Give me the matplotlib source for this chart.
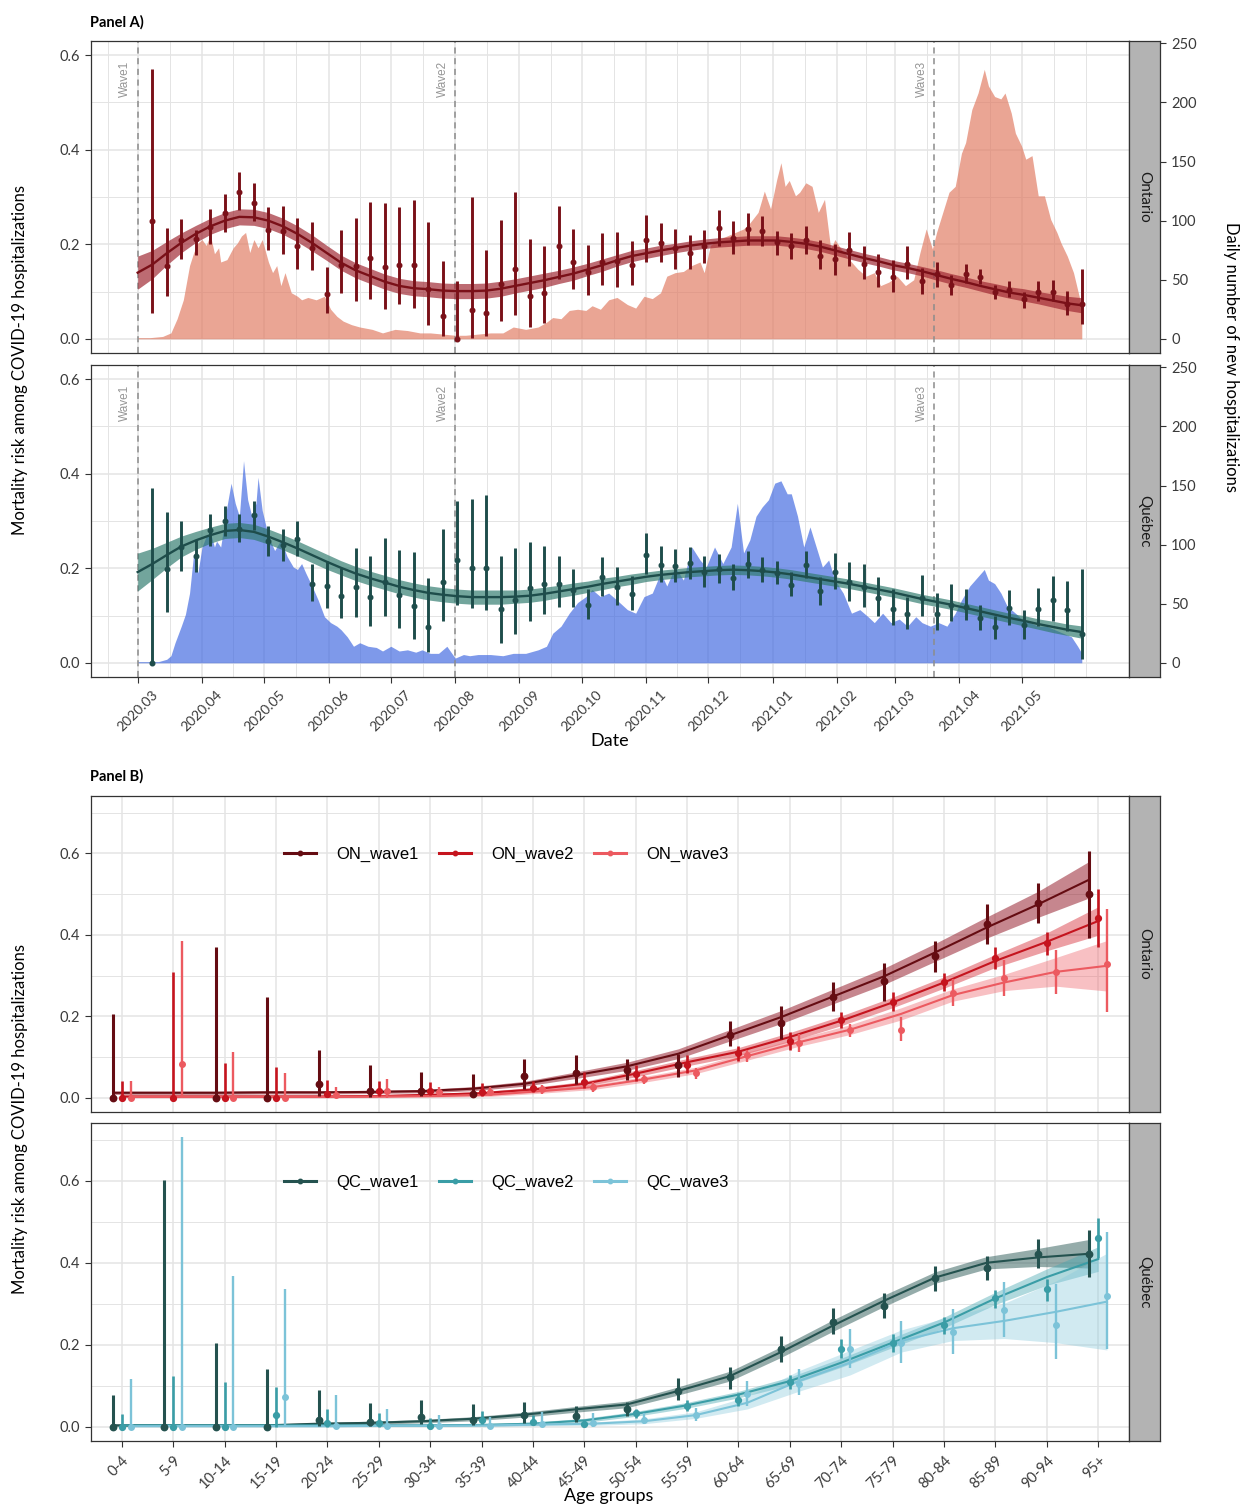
import numpy as np
import pandas as pd
import matplotlib
matplotlib.use("Agg")
import matplotlib.pyplot as plt
from matplotlib.lines import Line2D

plt.rcParams['font.family'] = ['Lato', 'DejaVu Sans']

# ======================= DATA : Panel A =======================
START = pd.Timestamp("2020-03-01")
week_dates = pd.date_range("2020-03-08", "2021-05-30", freq="7D")     # 65 weekly estimates
smooth_dates = pd.date_range("2020-03-01", "2021-05-30", freq="7D")   # 66 fitted values
wave_dates = pd.to_datetime(["2020-03-01", "2020-08-01", "2021-03-20"])
wave_labels = ["Wave1", "Wave2", "Wave3"]
month_ticks = pd.date_range("2020-03-01", "2021-05-01", freq="MS")
hosp_ticks = [0, 50, 100, 150, 200, 250]
SEC_SCALE = 400  # secondary axis = primary * 400

on_pt = [0.250, 0.154, 0.210, 0.211, 0.236, 0.266, 0.311, 0.288, 0.231, 0.229,
         0.197, 0.192, 0.095, 0.156, 0.154, 0.171, 0.152, 0.157, 0.156, 0.106,
         0.049, 0.000, 0.062, 0.055, 0.116, 0.148, 0.090, 0.096, 0.196, 0.162,
         0.141, 0.163, 0.165, 0.156, 0.210, 0.203, 0.192, 0.182, 0.196, 0.234,
         0.213, 0.233, 0.229, 0.204, 0.196, 0.210, 0.176, 0.168, 0.187, 0.159,
         0.142, 0.131, 0.159, 0.122, 0.138, 0.114, 0.138, 0.131, 0.099, 0.103,
         0.084, 0.100, 0.100, 0.074, 0.074]
on_lo = [0.055, 0.090, 0.168, 0.178, 0.200, 0.226, 0.272, 0.250, 0.187, 0.180,
         0.148, 0.145, 0.054, 0.096, 0.079, 0.085, 0.064, 0.074, 0.065, 0.029,
         0.006, 0.000, 0.001, 0.005, 0.038, 0.050, 0.024, 0.034, 0.126, 0.105,
         0.093, 0.113, 0.110, 0.113, 0.163, 0.162, 0.148, 0.148, 0.161, 0.196,
         0.180, 0.199, 0.196, 0.177, 0.169, 0.180, 0.147, 0.136, 0.154, 0.126,
         0.109, 0.099, 0.126, 0.094, 0.110, 0.093, 0.119, 0.115, 0.084, 0.089,
         0.066, 0.080, 0.080, 0.051, 0.031]
on_hi = [0.571, 0.234, 0.253, 0.231, 0.274, 0.306, 0.352, 0.330, 0.278, 0.281,
         0.255, 0.247, 0.152, 0.230, 0.256, 0.290, 0.288, 0.279, 0.294, 0.247,
         0.164, 0.122, 0.301, 0.187, 0.251, 0.310, 0.212, 0.196, 0.281, 0.232,
         0.199, 0.224, 0.225, 0.206, 0.262, 0.246, 0.232, 0.219, 0.231, 0.272,
         0.250, 0.266, 0.259, 0.229, 0.224, 0.238, 0.208, 0.201, 0.226, 0.196,
         0.180, 0.166, 0.196, 0.150, 0.163, 0.135, 0.159, 0.148, 0.113, 0.122,
         0.100, 0.122, 0.124, 0.101, 0.147]
on_fit = [0.140, 0.157, 0.181, 0.203, 0.222, 0.238, 0.250, 0.258, 0.257, 0.250,
          0.238, 0.222, 0.203, 0.182, 0.161, 0.145, 0.133, 0.121, 0.112, 0.107,
          0.105, 0.102, 0.101, 0.101, 0.102, 0.106, 0.112, 0.118, 0.124, 0.131,
          0.138, 0.147, 0.156, 0.166, 0.175, 0.181, 0.187, 0.192, 0.197, 0.201,
          0.204, 0.206, 0.208, 0.208, 0.208, 0.205, 0.201, 0.195, 0.187, 0.179,
          0.171, 0.164, 0.156, 0.150, 0.143, 0.135, 0.127, 0.120, 0.112, 0.105,
          0.098, 0.093, 0.087, 0.081, 0.075, 0.071]
on_fit_se = [0.035, 0.030, 0.025, 0.021, 0.018, 0.017, 0.017, 0.017, 0.017, 0.017,
             0.017, 0.017, 0.017, 0.016, 0.016, 0.016, 0.016, 0.016, 0.016, 0.016,
             0.016, 0.016, 0.016, 0.016, 0.016, 0.016, 0.015, 0.015, 0.015, 0.014,
             0.014, 0.013, 0.013, 0.012, 0.012, 0.011, 0.011, 0.010, 0.010, 0.010,
             0.010, 0.010, 0.010, 0.010, 0.010, 0.010, 0.010, 0.010, 0.010, 0.010,
             0.010, 0.010, 0.010, 0.010, 0.010, 0.011, 0.011, 0.011, 0.011, 0.012,
             0.012, 0.013, 0.013, 0.014, 0.015, 0.016]

qc_pt = [0.000, 0.198, 0.246, 0.226, 0.281, 0.300, 0.283, 0.312, 0.258, 0.249,
         0.261, 0.167, 0.163, 0.142, 0.160, 0.139, 0.170, 0.144, 0.121, 0.076,
         0.170, 0.218, 0.201, 0.201, 0.114, 0.133, 0.159, 0.167, 0.166, 0.154,
         0.123, 0.181, 0.161, 0.145, 0.229, 0.207, 0.204, 0.211, 0.192, 0.198,
         0.180, 0.208, 0.196, 0.189, 0.165, 0.207, 0.152, 0.193, 0.170, 0.161,
         0.137, 0.114, 0.104, 0.137, 0.103, 0.123, 0.119, 0.095, 0.075, 0.116,
         0.079, 0.114, 0.132, 0.111, 0.060]
qc_lo = [0.000, 0.107, 0.195, 0.193, 0.248, 0.269, 0.255, 0.282, 0.225, 0.215,
         0.225, 0.130, 0.116, 0.095, 0.096, 0.077, 0.098, 0.074, 0.051, 0.022,
         0.089, 0.123, 0.116, 0.112, 0.042, 0.060, 0.088, 0.104, 0.118, 0.118,
         0.093, 0.142, 0.123, 0.111, 0.188, 0.171, 0.170, 0.178, 0.160, 0.168,
         0.153, 0.180, 0.170, 0.166, 0.142, 0.179, 0.123, 0.156, 0.130, 0.118,
         0.100, 0.079, 0.072, 0.098, 0.069, 0.088, 0.091, 0.070, 0.051, 0.081,
         0.051, 0.077, 0.089, 0.067, 0.008]
qc_hi = [0.370, 0.318, 0.300, 0.260, 0.314, 0.331, 0.314, 0.342, 0.290, 0.283,
         0.300, 0.209, 0.216, 0.200, 0.242, 0.225, 0.263, 0.239, 0.234, 0.179,
         0.283, 0.342, 0.346, 0.356, 0.227, 0.242, 0.256, 0.248, 0.225, 0.198,
         0.156, 0.223, 0.202, 0.184, 0.274, 0.247, 0.241, 0.244, 0.225, 0.230,
         0.209, 0.236, 0.223, 0.215, 0.192, 0.236, 0.182, 0.233, 0.213, 0.209,
         0.181, 0.156, 0.140, 0.186, 0.147, 0.166, 0.156, 0.123, 0.098, 0.154,
         0.112, 0.158, 0.184, 0.173, 0.198]
qc_fit = [0.192, 0.209, 0.228, 0.246, 0.259, 0.270, 0.279, 0.281, 0.277, 0.267,
          0.255, 0.242, 0.228, 0.214, 0.201, 0.189, 0.179, 0.170, 0.161, 0.154,
          0.148, 0.144, 0.141, 0.139, 0.139, 0.139, 0.140, 0.142, 0.146, 0.151,
          0.156, 0.161, 0.167, 0.172, 0.177, 0.182, 0.186, 0.189, 0.192, 0.194,
          0.196, 0.197, 0.196, 0.194, 0.191, 0.187, 0.182, 0.177, 0.172, 0.167,
          0.161, 0.155, 0.149, 0.142, 0.135, 0.129, 0.123, 0.116, 0.109, 0.102,
          0.095, 0.089, 0.082, 0.076, 0.070, 0.065]
qc_fit_se = [0.040, 0.033, 0.027, 0.022, 0.019, 0.017, 0.016, 0.016, 0.016, 0.016,
             0.016, 0.016, 0.016, 0.016, 0.015, 0.015, 0.015, 0.015, 0.015, 0.015,
             0.015, 0.015, 0.015, 0.015, 0.015, 0.015, 0.014, 0.014, 0.014, 0.013,
             0.013, 0.012, 0.012, 0.011, 0.011, 0.010, 0.010, 0.010, 0.010, 0.010,
             0.010, 0.010, 0.010, 0.010, 0.010, 0.010, 0.010, 0.010, 0.010, 0.010,
             0.010, 0.010, 0.010, 0.010, 0.010, 0.010, 0.010, 0.010, 0.010, 0.010,
             0.010, 0.011, 0.011, 0.012, 0.012, 0.013]

# daily new hospitalisations (day offset from 2020-03-01, count)
on_hosp_day = [0, 6, 12, 16, 19, 22, 25, 27, 29, 31, 33, 35, 37, 39, 40, 43, 46, 48, 50, 52,
               54, 56, 58, 60, 63, 65, 67, 69, 71, 74, 77, 79, 82, 86, 90, 93, 96, 99, 103, 107,
               113, 118, 124, 130, 136, 141, 147, 153, 158, 164, 170, 176, 181, 187, 193, 197, 200, 204, 208, 212,
               216, 219, 223, 227, 231, 236, 240, 244, 248, 252, 255, 259, 263, 267, 271, 273, 276, 280, 284, 288,
               292, 295, 299, 302, 305, 308, 310, 312, 314, 317, 319, 322, 325, 328, 331, 334, 336, 339, 343, 347,
               351, 355, 358, 362, 366, 370, 374, 377, 380, 383, 385, 388, 391, 394, 397, 399, 402, 405, 408, 410,
               413, 416, 418, 421, 423, 426, 428, 431, 434, 437, 440, 443, 445, 448, 451, 454, 455]
on_hosp_n = [1, 1, 2, 5, 17, 33, 62, 73, 81, 84, 79, 88, 72, 77, 65, 67, 77, 81, 87, 90,
             73, 84, 77, 84, 65, 56, 62, 45, 56, 39, 36, 33, 35, 33, 36, 25, 19, 15, 12, 10,
             8, 5, 8, 7, 5, 5, 4, 3, 3, 4, 5, 5, 10, 8, 10, 14, 18, 17, 24, 25,
             24, 28, 25, 33, 35, 29, 26, 36, 34, 39, 53, 56, 57, 62, 65, 56, 79, 84, 87, 90,
             93, 98, 107, 125, 110, 135, 149, 129, 134, 121, 124, 132, 129, 107, 118, 76, 84, 76, 67, 59,
             53, 56, 45, 48, 53, 45, 50, 73, 93, 76, 90, 107, 124, 129, 157, 166, 194, 208, 228, 214,
             205, 203, 208, 191, 174, 163, 152, 155, 121, 121, 101, 90, 81, 70, 56, 34, 20]
qc_hosp_day = [0, 10, 14, 16, 18, 21, 23, 25, 27, 29, 31, 33, 35, 37, 38, 40, 43, 45, 47, 49,
               51, 53, 55, 57, 58, 60, 63, 66, 69, 72, 75, 77, 79, 81, 84, 87, 90, 93, 96, 98,
               101, 104, 107, 111, 115, 118, 122, 126, 130, 134, 137, 141, 145, 149, 153, 157, 160, 164, 170, 176,
               181, 187, 193, 197, 200, 204, 208, 212, 216, 219, 223, 227, 231, 236, 240, 244, 248, 252, 255, 259,
               263, 267, 271, 274, 278, 282, 286, 289, 292, 295, 298, 301, 304, 307, 310, 313, 315, 318, 321, 324,
               327, 330, 333, 336, 340, 344, 348, 352, 355, 359, 363, 367, 371, 375, 378, 382, 386, 390, 394, 397,
               401, 405, 408, 410, 413, 416, 419, 423, 426, 430, 434, 438, 442, 446, 450, 453, 455]
qc_hosp_n = [1, 1, 3, 6, 17, 31, 41, 59, 93, 76, 98, 107, 110, 98, 103, 98, 132, 152, 135, 124,
             171, 138, 124, 135, 157, 129, 107, 95, 104, 90, 81, 79, 84, 76, 65, 53, 39, 34, 31, 28,
             22, 14, 17, 14, 13, 10, 14, 10, 11, 9, 11, 8, 8, 14, 4, 7, 6, 7, 7, 6,
             8, 8, 11, 14, 25, 31, 42, 51, 56, 62, 56, 59, 53, 45, 42, 56, 59, 76, 65, 81,
             70, 98, 87, 81, 98, 84, 98, 135, 93, 104, 124, 132, 138, 152, 154, 143, 143, 124, 98, 115,
             98, 81, 87, 70, 59, 42, 45, 39, 34, 42, 34, 37, 31, 39, 34, 31, 34, 31, 42, 53,
             65, 73, 79, 70, 67, 59, 48, 42, 37, 34, 31, 31, 28, 25, 22, 14, 8]

# ======================= DATA : Panel B =======================
age_groups = ["0-4", "5-9", "10-14", "15-19", "20-24", "25-29", "30-34", "35-39", "40-44", "45-49",
              "50-54", "55-59", "60-64", "65-69", "70-74", "75-79", "80-84", "85-89", "90-94", "95+"]
nan = np.nan
on_w1_pt = [0.0, nan, 0.0, 0.0, 0.034, 0.016, 0.017, 0.010, 0.052, 0.061, 0.067, 0.079, 0.155, 0.184, 0.248, 0.286, 0.347, 0.426, 0.479, 0.500]
on_w1_lo = [0.0, nan, 0.0, 0.0, 0.004, 0.002, 0.003, 0.002, 0.022, 0.034, 0.044, 0.051, 0.128, 0.143, 0.212, 0.237, 0.309, 0.377, 0.429, 0.393]
on_w1_hi = [0.206, nan, 0.369, 0.247, 0.118, 0.079, 0.063, 0.059, 0.096, 0.106, 0.094, 0.108, 0.188, 0.226, 0.285, 0.332, 0.384, 0.475, 0.528, 0.606]
on_w1_fit = [0.012, 0.012, 0.012, 0.013, 0.013, 0.014, 0.016, 0.022, 0.034, 0.055, 0.077, 0.108, 0.153, 0.198, 0.248, 0.298, 0.357, 0.418, 0.475, 0.536]
on_w1_se = [0.004, 0.004, 0.004, 0.004, 0.004, 0.004, 0.004, 0.005, 0.006, 0.008, 0.010, 0.012, 0.014, 0.016, 0.018, 0.020, 0.022, 0.026, 0.032, 0.045]

on_w2_pt = [0.0, 0.0, 0.0, 0.0, 0.010, 0.016, 0.016, 0.014, 0.024, 0.038, 0.059, 0.081, 0.109, 0.140, 0.191, 0.236, 0.283, 0.342, 0.381, 0.441]
on_w2_lo = [0.0, 0.0, 0.0, 0.0, 0.002, 0.003, 0.006, 0.004, 0.014, 0.024, 0.042, 0.061, 0.091, 0.116, 0.171, 0.212, 0.263, 0.316, 0.350, 0.371]
on_w2_hi = [0.040, 0.308, 0.085, 0.075, 0.044, 0.042, 0.038, 0.036, 0.040, 0.063, 0.079, 0.104, 0.126, 0.161, 0.210, 0.260, 0.306, 0.371, 0.407, 0.512]
on_w2_fit = [0.003, 0.003, 0.003, 0.003, 0.003, 0.004, 0.007, 0.011, 0.020, 0.034, 0.059, 0.087, 0.113, 0.149, 0.189, 0.234, 0.283, 0.336, 0.383, 0.434]
on_w2_se = [0.003, 0.003, 0.003, 0.003, 0.003, 0.003, 0.003, 0.004, 0.005, 0.006, 0.008, 0.009, 0.010, 0.011, 0.012, 0.013, 0.014, 0.016, 0.022, 0.035]

on_w3_pt = [0.0, 0.083, 0.0, 0.0, 0.006, 0.016, 0.014, 0.014, 0.020, 0.026, 0.045, 0.060, 0.104, 0.135, 0.165, 0.167, 0.256, 0.294, 0.309, 0.328]
on_w3_lo = [0.0, 0.0, 0.0, 0.0, 0.0, 0.0, 0.004, 0.004, 0.010, 0.014, 0.034, 0.047, 0.087, 0.112, 0.149, 0.138, 0.226, 0.251, 0.255, 0.211]
on_w3_hi = [0.040, 0.384, 0.112, 0.061, 0.026, 0.045, 0.026, 0.026, 0.032, 0.038, 0.056, 0.073, 0.118, 0.157, 0.181, 0.198, 0.291, 0.338, 0.363, 0.463]
on_w3_fit = [0.002, 0.002, 0.002, 0.002, 0.002, 0.003, 0.004, 0.007, 0.016, 0.026, 0.045, 0.067, 0.102, 0.136, 0.167, 0.206, 0.252, 0.283, 0.309, 0.324]
on_w3_se = [0.002, 0.002, 0.002, 0.002, 0.002, 0.003, 0.003, 0.004, 0.005, 0.006, 0.007, 0.008, 0.010, 0.010, 0.012, 0.015, 0.015, 0.020, 0.035, 0.062]

qc_w1_pt = [0.0, 0.0, 0.0, 0.0, 0.017, 0.011, 0.023, 0.016, 0.028, 0.025, 0.042, 0.088, 0.122, 0.189, 0.256, 0.295, 0.362, 0.387, 0.422, 0.422]
qc_w1_lo = [0.0, 0.0, 0.0, 0.0, 0.002, 0.002, 0.007, 0.003, 0.009, 0.011, 0.025, 0.064, 0.092, 0.158, 0.226, 0.264, 0.332, 0.358, 0.386, 0.364]
qc_w1_hi = [0.078, 0.601, 0.205, 0.141, 0.089, 0.058, 0.066, 0.056, 0.060, 0.050, 0.060, 0.118, 0.146, 0.221, 0.289, 0.325, 0.392, 0.416, 0.457, 0.479]
qc_w1_fit = [0.003, 0.003, 0.003, 0.003, 0.007, 0.009, 0.013, 0.019, 0.029, 0.042, 0.054, 0.087, 0.123, 0.182, 0.246, 0.307, 0.364, 0.400, 0.413, 0.422]
qc_w1_se = [0.003, 0.003, 0.003, 0.003, 0.003, 0.004, 0.004, 0.005, 0.006, 0.007, 0.008, 0.010, 0.012, 0.013, 0.014, 0.014, 0.014, 0.015, 0.022, 0.035]

qc_w2_pt = [0.0, 0.0, 0.0, 0.028, 0.009, 0.009, 0.002, 0.017, 0.012, 0.007, 0.032, 0.051, 0.066, 0.109, 0.190, 0.204, 0.248, 0.313, 0.336, 0.461]
qc_w2_lo = [0.0, 0.0, 0.0, 0.0, 0.0, 0.0, 0.0, 0.005, 0.005, 0.002, 0.021, 0.038, 0.050, 0.091, 0.167, 0.181, 0.227, 0.289, 0.307, 0.411]
qc_w2_hi = [0.031, 0.123, 0.109, 0.097, 0.042, 0.034, 0.021, 0.039, 0.027, 0.017, 0.043, 0.066, 0.083, 0.125, 0.213, 0.226, 0.267, 0.334, 0.361, 0.509]
qc_w2_fit = [0.003, 0.003, 0.003, 0.003, 0.003, 0.003, 0.003, 0.004, 0.007, 0.015, 0.031, 0.052, 0.078, 0.111, 0.156, 0.205, 0.254, 0.313, 0.365, 0.409]
qc_w2_se = [0.002, 0.002, 0.002, 0.002, 0.002, 0.002, 0.003, 0.003, 0.004, 0.005, 0.006, 0.007, 0.008, 0.010, 0.011, 0.012, 0.013, 0.015, 0.020, 0.030]

qc_w3_pt = [0.0, 0.0, 0.0, 0.072, 0.001, 0.001, 0.002, 0.001, 0.007, 0.009, 0.017, 0.028, 0.080, 0.105, 0.190, 0.205, 0.232, 0.284, 0.248, 0.318]
qc_w3_lo = [0.0, 0.0, 0.0, 0.0, 0.0, 0.0, 0.0, 0.0, 0.0, 0.0, 0.007, 0.013, 0.050, 0.076, 0.144, 0.156, 0.176, 0.219, 0.164, 0.189]
qc_w3_hi = [0.115, 0.706, 0.368, 0.336, 0.078, 0.044, 0.029, 0.023, 0.036, 0.034, 0.034, 0.046, 0.111, 0.141, 0.239, 0.258, 0.288, 0.354, 0.348, 0.475]
qc_w3_fit = [0.001, 0.001, 0.001, 0.001, 0.001, 0.002, 0.002, 0.003, 0.005, 0.007, 0.013, 0.028, 0.058, 0.111, 0.156, 0.209, 0.240, 0.258, 0.280, 0.305]
qc_w3_se = [0.002, 0.002, 0.002, 0.002, 0.002, 0.002, 0.002, 0.003, 0.003, 0.004, 0.006, 0.008, 0.015, 0.025, 0.030, 0.027, 0.030, 0.043, 0.075, 0.118]

on_wave_names = ["ON_wave1", "ON_wave2", "ON_wave3"]
qc_wave_names = ["QC_wave1", "QC_wave2", "QC_wave3"]

# ======================= STYLE =======================
W, H = 1240, 1505
TICK_C = '#3A3A3A'
GRID_C = '#E4E4E4'
SPINE_C = '#333333'
ON_LINE, ON_BAND, ON_AREA = '#7A1018', '#9E2530', '#E07A62'
QC_LINE, QC_BAND, QC_AREA = '#1E4D4B', '#2F7A6E', '#4169E1'
ON_COLS = ['#650C12', '#C5141E', '#EC5A60']
ON_FILLS = ['#8E0F1E', '#D41A26', '#EE5A62']
QC_COLS = ['#24524F', '#3A9DA6', '#7CC3D8']
QC_FILLS = ['#2C5A57', '#43A6B0', '#86C8DC']
DODGE = 0.17

fig = plt.figure(figsize=(W / 100, H / 100), dpi=100)


def px_axes(x0, y0, x1, y1):
    return fig.add_axes([x0 / W, 1 - y1 / H, (x1 - x0) / W, (y1 - y0) / H])


def style_spines(ax):
    for s in ax.spines.values():
        s.set_color(SPINE_C)
        s.set_linewidth(0.9)


def add_strip(y0, y1, label, ylim=None):
    sax = px_axes(1129, y0, 1160, y1)
    sax.set_facecolor('#B3B3B3')
    style_spines(sax)
    sax.set_xticks([])
    sax.text(0.5, 0.5, label, rotation=-90, ha='center', va='center',
             transform=sax.transAxes, fontsize=11, color='#1A1A1A')
    if ylim is not None:
        sax.set_ylim(ylim[0] * SEC_SCALE, ylim[1] * SEC_SCALE)
        sax.set_yticks(hosp_ticks)
        sax.yaxis.tick_right()
        sax.tick_params(axis='y', length=4, width=0.8, color=SPINE_C, labelsize=10.5,
                        labelcolor=TICK_C, pad=4)
    else:
        sax.set_yticks([])
    return sax


# ---------------- Panel A ----------------
XLIM_A = (pd.Timestamp("2020-02-07 12:00"), pd.Timestamp("2021-06-21 18:00"))
YLIM_A = (-0.03, 0.63)
grid_months = pd.date_range("2020-02-01", "2021-06-01", freq="MS")
mid_months = grid_months[:-1] + (grid_months[1:] - grid_months[:-1]) / 2
minor_x = list(mid_months) + [pd.Timestamp("2021-06-01")]


def draw_panel_a(box, hosp_day, hosp_n, area_c, band_c, line_c, fit, fit_se, pt, lo, hi,
                 strip_label, show_x):
    ax = px_axes(*box)
    ax.set_xlim(XLIM_A)
    ax.set_ylim(YLIM_A)
    ax.set_xticks(month_ticks)
    ax.set_xticks(minor_x, minor=True)
    ax.set_yticks([0.0, 0.2, 0.4, 0.6])
    ax.set_yticks([0.1, 0.3, 0.5], minor=True)
    ax.set_yticklabels(["0.0", "0.2", "0.4", "0.6"])
    ax.set_axisbelow(True)
    ax.grid(which='major', color=GRID_C, lw=1.1)
    ax.grid(which='minor', color=GRID_C, lw=0.7)
    style_spines(ax)
    ax.tick_params(axis='y', which='major', length=4, width=0.8, color=SPINE_C,
                   labelsize=10.5, labelcolor=TICK_C, pad=4)
    ax.tick_params(axis='y', which='minor', length=0)
    ax.tick_params(axis='x', which='minor', length=0)
    if show_x:
        ax.set_xticklabels([d.strftime("%Y.%m") for d in month_ticks], rotation=45,
                           ha='center', va='top')
        ax.tick_params(axis='x', which='major', length=4, width=0.8, color=SPINE_C,
                       labelsize=10, labelcolor=TICK_C, pad=4)
    else:
        ax.tick_params(axis='x', which='major', length=0, labelbottom=False)

    hosp_dates = START + pd.to_timedelta(hosp_day, unit='D')
    ax.fill_between(hosp_dates, np.asarray(hosp_n, float) / SEC_SCALE, 0,
                    color=area_c, alpha=0.68, lw=0, zorder=1)
    for wd, wl in zip(wave_dates, wave_labels):
        ax.axvline(wd, color='#8C8C8C', lw=1.1, ls=(0, (4, 3)), zorder=2.5)
        ax.annotate(wl, xy=(wd, 0.55), xytext=(-9, 0), textcoords='offset points',
                    rotation=90, ha='center', va='center', fontsize=8.5,
                    color='#959595', family=['Liberation Sans', 'DejaVu Sans'])
    fit = np.asarray(fit)
    fit_se = np.asarray(fit_se)
    ax.fill_between(smooth_dates, fit - fit_se, fit + fit_se, color=band_c, alpha=0.68,
                    lw=0, zorder=3)
    ax.plot(smooth_dates, fit, color=line_c, lw=1.7, zorder=4)
    ax.vlines(week_dates, lo, hi, color=line_c, lw=2.1, zorder=5)
    ax.plot(week_dates, pt, 'o', color=line_c, ms=3.3, zorder=6)
    add_strip(box[1], box[3], strip_label, ylim=YLIM_A)
    return ax


draw_panel_a((91, 41, 1129, 353), on_hosp_day, on_hosp_n, ON_AREA, ON_BAND, ON_LINE,
             on_fit, on_fit_se, on_pt, on_lo, on_hi, "Ontario", False)
draw_panel_a((91, 365, 1129, 677), qc_hosp_day, qc_hosp_n, QC_AREA, QC_BAND, QC_LINE,
             qc_fit, qc_fit_se, qc_pt, qc_lo, qc_hi, "Québec", True)

# ---------------- Panel B ----------------
YLIM_B = (-0.0353, 0.7413)


def draw_panel_b(box, waves, colors, fills, names, strip_label, show_x):
    ax = px_axes(*box)
    x = np.arange(len(age_groups))
    ax.set_xlim(-0.6, len(age_groups) - 0.4)
    ax.set_ylim(YLIM_B)
    ax.set_xticks(x)
    ax.set_yticks([0.0, 0.2, 0.4, 0.6])
    ax.set_yticklabels(["0.0", "0.2", "0.4", "0.6"])
    ax.set_yticks([0.1, 0.3, 0.5, 0.7], minor=True)
    ax.set_axisbelow(True)
    ax.grid(which='major', color=GRID_C, lw=1.1)
    ax.grid(which='minor', axis='y', color=GRID_C, lw=0.7)
    style_spines(ax)
    ax.tick_params(axis='y', which='major', length=4, width=0.8, color=SPINE_C,
                   labelsize=10.5, labelcolor=TICK_C, pad=4)
    ax.tick_params(axis='y', which='minor', length=0)
    if show_x:
        ax.set_xticklabels(age_groups, rotation=45, ha='right', va='top',
                           rotation_mode='anchor')
        ax.tick_params(axis='x', length=4, width=0.8, color=SPINE_C, labelsize=10.5,
                       labelcolor=TICK_C, pad=5)
    else:
        ax.tick_params(axis='x', length=0, labelbottom=False)

    offsets = [-DODGE, 0.0, DODGE]
    bar_lw = [2.2, 1.9, 1.7]
    msz = [4.6, 4.2, 4.0]
    fill_alpha = [0.5, 0.42, 0.38]
    handles = []
    for (pt, lo, hi, fit, se), col, fc, fa, off, blw, ms in zip(waves, colors, fills, fill_alpha,
                                                               offsets, bar_lw, msz):
        xx = x + off
        fit = np.asarray(fit)
        se = np.asarray(se)
        pt = np.asarray(pt, float)
        lo = np.asarray(lo, float)
        hi = np.asarray(hi, float)
        ax.fill_between(xx, fit - se, fit + se, color=fc, alpha=fa, lw=0, zorder=2)
        ax.plot(xx, fit, color=col, lw=1.5, zorder=3)
        ok = ~np.isnan(pt)
        ax.vlines(xx[ok], lo[ok], hi[ok], color=col, lw=blw, zorder=4)
        ax.plot(xx[ok], pt[ok], 'o', color=col, ms=ms, zorder=5)
        handles.append(Line2D([], [], color=col, lw=2.2, marker='o', ms=3.2))
    ax.legend(handles, names, loc='center', bbox_to_anchor=(0.4, 0.814), ncol=3,
              frameon=False, handlelength=1.9, handletextpad=1.2, columnspacing=1.25,
              prop={'family': ['Liberation Sans', 'DejaVu Sans'], 'size': 12})
    add_strip(box[1], box[3], strip_label)
    return ax


draw_panel_b((91, 796, 1129, 1112),
             [(on_w1_pt, on_w1_lo, on_w1_hi, on_w1_fit, on_w1_se),
              (on_w2_pt, on_w2_lo, on_w2_hi, on_w2_fit, on_w2_se),
              (on_w3_pt, on_w3_lo, on_w3_hi, on_w3_fit, on_w3_se)],
             ON_COLS, ON_FILLS, on_wave_names, "Ontario", False)
draw_panel_b((91, 1123, 1129, 1441),
             [(qc_w1_pt, qc_w1_lo, qc_w1_hi, qc_w1_fit, qc_w1_se),
              (qc_w2_pt, qc_w2_lo, qc_w2_hi, qc_w2_fit, qc_w2_se),
              (qc_w3_pt, qc_w3_lo, qc_w3_hi, qc_w3_fit, qc_w3_se)],
             QC_COLS, QC_FILLS, qc_wave_names, "Québec", True)

# ---------------- titles ----------------
fig.text(90 / W, 1 - 22 / H, "Panel A)", fontsize=10.5, fontweight='bold', ha='left', va='center')
fig.text(90 / W, 1 - 776 / H, "Panel B)", fontsize=10.5, fontweight='bold', ha='left', va='center')
fig.text(20 / W, 1 - 360 / H, "Mortality risk among COVID-19 hospitalizations", rotation=90,
         ha='center', va='center', fontsize=12)
fig.text(20 / W, 1 - 1119 / H, "Mortality risk among COVID-19 hospitalizations", rotation=90,
         ha='center', va='center', fontsize=12)
fig.text(1231 / W, 1 - 357 / H, "Daily number of new hospitalizations", rotation=-90,
         ha='center', va='center', fontsize=12)
fig.text(610 / W, 1 - 741 / H, "Date", ha='center', va='center', fontsize=13)
fig.text(609 / W, 1 - 1496 / H, "Age groups", ha='center', va='center', fontsize=13)

fig.savefig("out.png", dpi=100)
